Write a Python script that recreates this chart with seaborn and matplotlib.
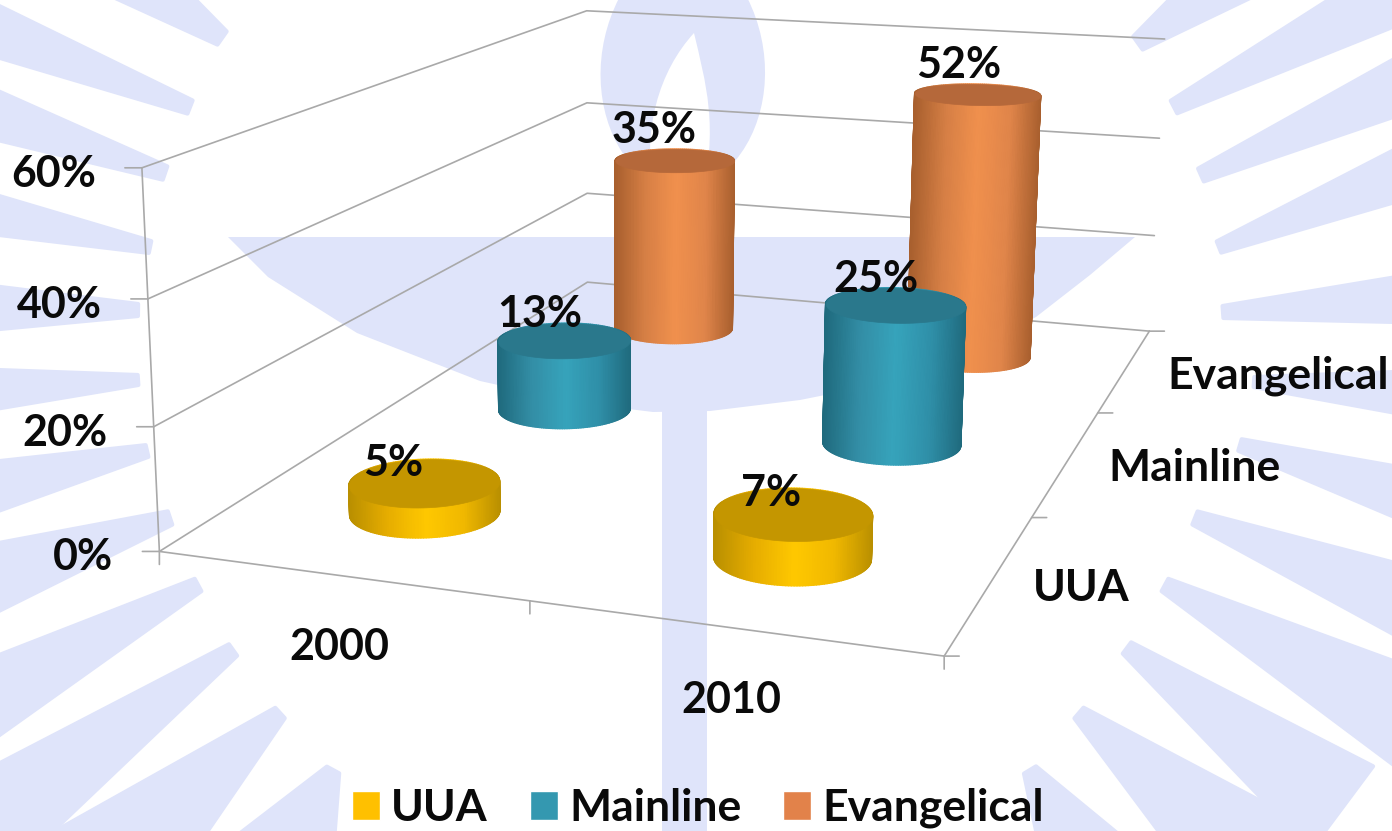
import numpy as np
import pandas as pd
import matplotlib
matplotlib.use('Agg')
import matplotlib.pyplot as plt
from matplotlib.patches import Polygon, PathPatch
from matplotlib.path import Path
from mpl_toolkits.mplot3d import proj3d
from mpl_toolkits.mplot3d.art3d import Poly3DCollection
import seaborn as sns

W, H = 1392, 831

years = ['2000', '2010']
groups = ['UUA', 'Mainline', 'Evangelical']
uua = [5, 7]
mainline = [13, 25]
evangelical = [35, 52]
z_ticks = [0, 20, 40, 60]

legend_colors = ['#ffc000', '#3498b0', '#e2824a']
top_colors = ['#c49600', '#2a788c', '#b5683a']
side_colors = [
    ['#b98f00', '#e6ad00', '#ffc800', '#f0b800', '#b98f00'],
    ['#1f6a7d', '#338ea6', '#36a3bb', '#2f8fa8', '#1f6a7d'],
    ['#a85f2e', '#d67f45', '#f0904d', '#e0854a', '#a85f2e'],
]

# where the box corners of the chart sit in the picture (data x, y, z -> pixel)
box_points = [
    (0, 0, 0, 160, 552), (0, 0, 20, 154, 427), (0, 0, 40, 147, 298), (0, 0, 60, 142, 168),
    (0, 3, 0, 587, 282), (0, 3, 20, 587, 193), (0, 3, 40, 587, 103), (0, 3, 60, 587, 11),
    (2, 3, 0, 1150, 331), (2, 3, 20, 1154, 236), (2, 3, 40, 1159, 138), (2, 3, 60, 1165, 39),
    (2, 0, 0, 944, 656),
]

df = pd.DataFrame({
    'Year': years * 3,
    'Group': [g for g in groups for _ in years],
    'Share': uua + mainline + evangelical,
})

sns.set_theme(style='white')
plt.rcParams['font.family'] = ['Lato', 'DejaVu Sans']
plt.rcParams['font.weight'] = 'bold'

fig = plt.figure(figsize=(W / 100, H / 100), dpi=100, facecolor='white')

# watermark behind the chart
bg = fig.add_axes([0, 0, 1, 1], zorder=0)
bg.set_xlim(0, W)
bg.set_ylim(H, 0)
bg.axis('off')
wm = '#dfe4fa'
# last column stretches the ray past the picture edge
rays = [
    (222, 38, 125, -30, 8, 30, 1.6), (190, 107, 0, 33, 7, 24, 1.6), (165, 173, 0, 117, 7, 23, 1.6),
    (150, 247, 0, 216, 6, 19, 1.6), (138, 310, 0, 308, 6, 21, 1.6), (138, 380, 0, 389, 5, 19, 1.6),
    (147, 451, 0, 485, 6, 24, 1.6), (170, 518, 0, 575, 7, 32, 1.6), (198, 585, 0, 692, 7, 35, 1.6),
    (233, 650, 27, 797, 7, 43, 1.6), (280, 713, 151, 831, 7, 48, 1.6), (333, 770, 300, 831, 7, 38, 1.6),
    (1138, 43, 1240, -30, 8, 30, 1.6), (1174, 107, 1392, -5, 7, 30, 1.6), (1201, 175, 1392, 90, 7, 26, 1.6),
    (1219, 247, 1392, 178, 6, 24, 1.6), (1223, 312, 1392, 300, 6, 22, 1.6), (1254, 382, 1392, 392, 5, 20, 1.6),
    (1240, 445, 1392, 490, 6, 24, 1.6), (1195, 518, 1392, 596, 7, 33, 1.6), (1165, 585, 1392, 708, 7, 45, 1.6),
    (1127, 648, 1342, 808, 7, 52, 1.0), (1079, 713, 1217, 831, 7, 48, 1.6), (1030, 770, 1067, 831, 7, 32, 1.6),
]
for ix, iy, ox, oy, hw_in, hw_out, stretch in rays:
    d = np.array([ox - ix, oy - iy], float)
    n = np.array([-d[1], d[0]]) / np.hypot(*d)
    inner_pt = np.array([ix, iy], float)
    outer_pt = inner_pt + d * stretch
    hw_end = hw_in + (hw_out - hw_in) * stretch
    pts = [inner_pt + n * hw_in, outer_pt + n * hw_end, outer_pt - n * hw_end, inner_pt - n * hw_in]
    bg.add_patch(Polygon(pts, closed=True, fc=wm, ec=wm, lw=3, joinstyle='round'))

bowl = [(228, 237), (1135, 237), (1090, 275), (1036, 317), (960, 355), (860, 388), (800, 400), (710, 411),
        (653, 412), (580, 403), (480, 381), (357, 333), (268, 277)]
bg.add_patch(Polygon(bowl, closed=True, fc=wm, ec='none'))
bg.add_patch(Polygon([(662, 400), (707, 400), (707, H), (662, H)], closed=True, fc=wm, ec='none'))

flame = Path([(684, -70), (565, 0), (582, 170), (680, 195), (785, 170), (800, 0), (684, -70)],
             [Path.MOVETO, Path.CURVE4, Path.CURVE4, Path.CURVE4, Path.CURVE4, Path.CURVE4, Path.CURVE4])
bg.add_patch(PathPatch(flame, fc=wm, ec='none'))
inner = Path([(694, 33), (660, 70), (640, 130), (655, 200), (700, 200), (720, 130), (705, 80), (694, 33)],
             [Path.MOVETO, Path.CURVE4, Path.CURVE4, Path.CURVE4, Path.LINETO, Path.CURVE4, Path.CURVE4, Path.CURVE4])
bg.add_patch(PathPatch(inner, fc='white', ec='none'))

# chart axes: square in pixels so nothing gets clipped
ax = fig.add_axes([0, (1 - W / H) / 2, 1, W / H], projection='3d', computed_zorder=False, zorder=1)
ax.set_axis_off()
ax.patch.set_visible(False)
ax.set_xlim(0, 2)
ax.set_ylim(0, 3)
ax.set_zlim(0, 60)
ax.apply_aspect()


def fit_camera():
    # least squares camera for the picture's perspective
    inv = ax.transData.inverted()
    rows = []
    rhs = []
    for x, y, z, px, py in box_points:
        u, v = inv.transform(fig.transFigure.transform((px / W, 1 - py / H)))
        rows.append([x, y, z, 1, 0, 0, 0, 0, -u * x, -u * y, -u * z])
        rows.append([0, 0, 0, 0, x, y, z, 1, -v * x, -v * y, -v * z])
        rhs += [u, v]
    p = np.linalg.lstsq(np.array(rows, float), np.array(rhs, float), rcond=None)[0]
    return np.array([p[:4], p[4:8], [0, 0, 0, -1], [p[8], p[9], p[10], 1]])


M = fit_camera()
ax.get_proj = lambda: M


def project(x, y, z):
    u, v, _ = proj3d.proj_transform(x, y, z, M)
    return u, v


grid_kw = dict(color='#a9a9a9', lw=1.2, zorder=1)
for v in z_ticks:
    ax.plot([0, 0, 2], [0, 3, 3], [v, v, v], **grid_kw)
ax.plot([0, 0], [0, 0], [0, 60], **grid_kw)
ax.plot([0, 2, 2], [0, 0, 3], [0, 0, 0], **grid_kw)


def tick(x, y, z, dx, dy):
    ax.annotate('', xy=project(x, y, z), xytext=(dx, dy), textcoords='offset pixels',
                arrowprops=dict(arrowstyle='-', color='#a9a9a9', lw=1.2, shrinkA=0, shrinkB=0))


for v in z_ticks:
    tick(0, 0, v, -17, 0)
for xt in [0, 1, 2]:
    tick(xt, 0, 0, 0, -13)
for yt in [0, 1, 2, 3]:
    tick(2, yt, 0, 15, 0)

rx, ry = 0.195, 0.2
theta = np.linspace(0, 2 * np.pi, 181)
z_order = 5
series = [uua, mainline, evangelical]
for gi in [2, 1, 0]:
    cmap = sns.blend_palette(side_colors[gi], as_cmap=True)
    for xi in range(len(years)):
        value = series[gi][xi]
        xc, yc = xi + 0.5, gi + 0.5
        xs = xc + rx * np.cos(theta)
        ys = yc + ry * np.sin(theta)
        sx, _ = project(xs, ys, np.zeros_like(xs))
        t = (sx - sx.min()) / (sx.max() - sx.min())
        X = np.vstack([xs, xs])
        Y = np.vstack([ys, ys])
        Z = np.vstack([np.zeros_like(xs), np.full_like(xs, value)])
        surf = ax.plot_surface(X, Y, Z, rstride=1, cstride=1, facecolors=cmap(np.vstack([t, t])),
                               shade=False, zorder=z_order)
        surf.set_snap(False)
        cap = Poly3DCollection([np.column_stack([xs, ys, np.full_like(xs, value)])],
                               facecolors=top_colors[gi], edgecolors=top_colors[gi], linewidths=0.5,
                               zorder=z_order + 1)
        ax.add_collection3d(cap)
        z_order += 2

num_font = 31
cat_font = 32


def label(x, y, z, text, dx, dy, size, ha='center'):
    ax.annotate(text, xy=project(x, y, z), xytext=(dx, dy), textcoords='offset pixels',
                ha=ha, va='center', fontsize=size, color='#0a0a0a', zorder=50)


# nudges for the value labels, same order as the series
label_dx = [[-31, -22], [-24, -19], [-21, -19]]
label_dy = [[20, 21], [26, 26], [30, 29]]
for gi, vals in enumerate(series):
    for xi, value in enumerate(vals):
        label(xi + 0.5, gi + 0.5, value, f'{value}%', label_dx[gi][xi], label_dy[gi][xi], num_font)

for v in z_ticks:
    label(0, 0, v, f'{v}%', -46, -6, num_font, ha='right')
for xi, year in enumerate(years):
    label(xi + 0.5, 0, 0, year, 0, -72, num_font)
for gi, g in enumerate(groups):
    label(2, gi + 0.5, 0, g, 42, -6, cat_font, ha='left')

# legend handles come from a hidden seaborn bar plot
hidden = fig.add_axes([0, 0, 0.1, 0.1])
sns.barplot(data=df, x='Year', y='Share', hue='Group', palette=legend_colors, saturation=1, ax=hidden)
handles, labels = hidden.get_legend_handles_labels()
hidden.get_legend().remove()
hidden.set_visible(False)
fig.legend(handles, labels, loc='center', bbox_to_anchor=(698 / W, 1 - 808 / H), ncol=3, frameon=False,
           fontsize=cat_font, handlelength=0.63, handleheight=0.63, handletextpad=0.25, columnspacing=0.95,
           borderpad=0, labelcolor='#0a0a0a')

fig.savefig('out.png', dpi=100)
